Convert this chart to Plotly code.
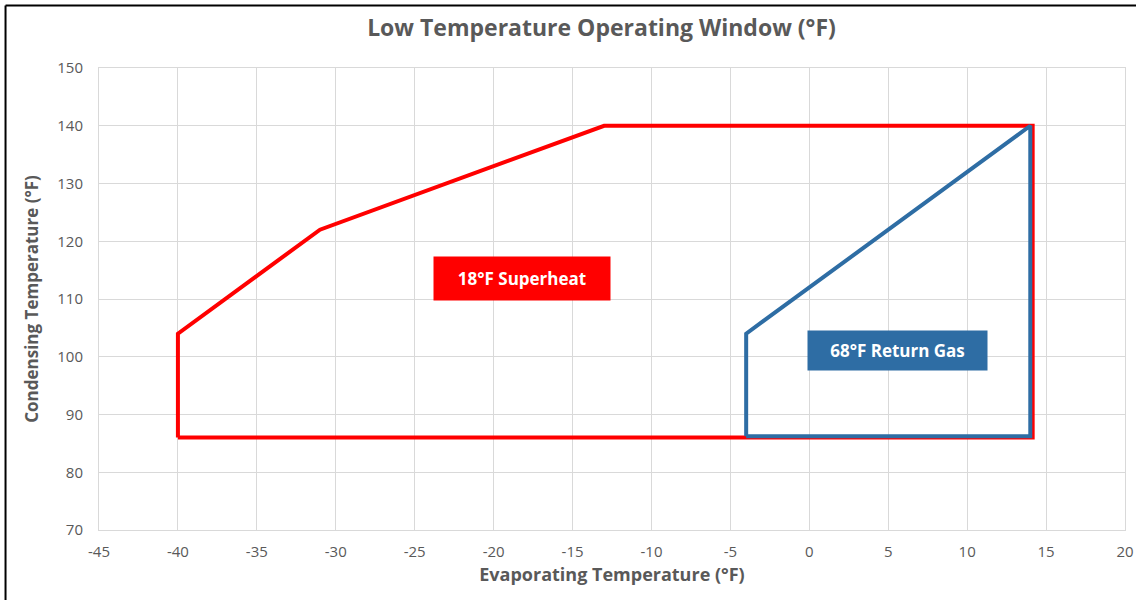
import plotly.graph_objects as go

# Data
red_x = [-40, -40, -31, -13, 14.15, 14.15, -40]
red_y = [86, 104, 122, 140, 140, 86, 86]
blue_x = [-4, -4, 14, 14, -4]
blue_y = [86.25, 104, 140, 86.25, 86.25]

x_ticks = list(range(-45, 21, 5))
y_ticks = list(range(70, 151, 10))

title_text = "Low Temperature Operating Window (°F)"
x_title = "Evaporating Temperature (°F)"
y_title = "Condensing Temperature (°F)"

labels = [
    {"text": "18°F Superheat", "x": -18.2, "y": 113.6, "color": "#FF0000", "w": 174, "h": 41},
    {"text": "68°F Return Gas", "x": 5.6, "y": 101.0, "color": "#2E6DA4", "w": 177, "h": 37},
]

FONT = "Open Sans"
GREY = "#595959"

fig = go.Figure()
fig.add_trace(go.Scatter(x=red_x, y=red_y, mode="lines",
                         line=dict(color="#FF0000", width=4), showlegend=False,
                         hoverinfo="skip"))
fig.add_trace(go.Scatter(x=blue_x, y=blue_y, mode="lines",
                         line=dict(color="#2E6DA4", width=4), showlegend=False,
                         hoverinfo="skip"))

for lb in labels:
    fig.add_annotation(x=lb["x"], y=lb["y"], xref="x", yref="y", text="<b>" + lb["text"] + "</b>",
                       showarrow=False, bgcolor=lb["color"], width=lb["w"], height=lb["h"],
                       font=dict(family=FONT, size=17, color="white"), align="center",
                       valign="middle")

# outer border (left and top)
fig.add_shape(type="line", xref="paper", yref="paper", x0=-0.0911, x1=-0.0911, y0=1.1353, y1=-0.2,
              line=dict(color="black", width=2))
fig.add_shape(type="line", xref="paper", yref="paper", x0=-0.0911, x1=1.05, y0=1.1353, y1=1.1353,
              line=dict(color="black", width=2))

TRANSP = "rgba(0,0,0,0)"
fig.update_layout(
    width=1136, height=600,
    margin=dict(l=99, r=11, t=68, b=70, autoexpand=False),
    paper_bgcolor="white", plot_bgcolor="white",
    font=dict(family=FONT, color=GREY),
    title=dict(text="<b>" + title_text + "</b>", x=601.5 / 1136, xref="container", xanchor="center",
               y=1 - 28 / 600, yref="container", yanchor="middle",
               font=dict(family=FONT, size=23, color=GREY)),
    xaxis=dict(range=[-45, 20], tickvals=x_ticks, ticktext=[str(v) for v in x_ticks],
               showgrid=True, gridcolor="#d9d9d9", gridwidth=1, automargin=False,
               showline=True, linecolor="#d9d9d9", mirror=True, zeroline=False,
               ticks="outside", ticklen=8, tickcolor=TRANSP,
               tickfont=dict(size=15, color=GREY, family=FONT),
               title=dict(text="<b>" + x_title + "</b>", font=dict(size=18, color=GREY, family=FONT),
                          standoff=8)),
    yaxis=dict(range=[70, 150], tickvals=y_ticks, ticktext=[str(v) for v in y_ticks],
               showgrid=True, gridcolor="#d9d9d9", gridwidth=1, automargin=False,
               showline=True, linecolor="#d9d9d9", mirror=True, zeroline=False,
               ticks="outside", ticklen=12, tickcolor=TRANSP,
               tickfont=dict(size=15, color=GREY, family=FONT),
               title=dict(text="<b>" + y_title + "</b>", font=dict(size=17, color=GREY, family=FONT),
                          standoff=14)),
)

fig.write_html("out.html", config={"displayModeBar": False},
               post_script="document.body.style.margin='0';document.body.style.overflow='hidden';")
